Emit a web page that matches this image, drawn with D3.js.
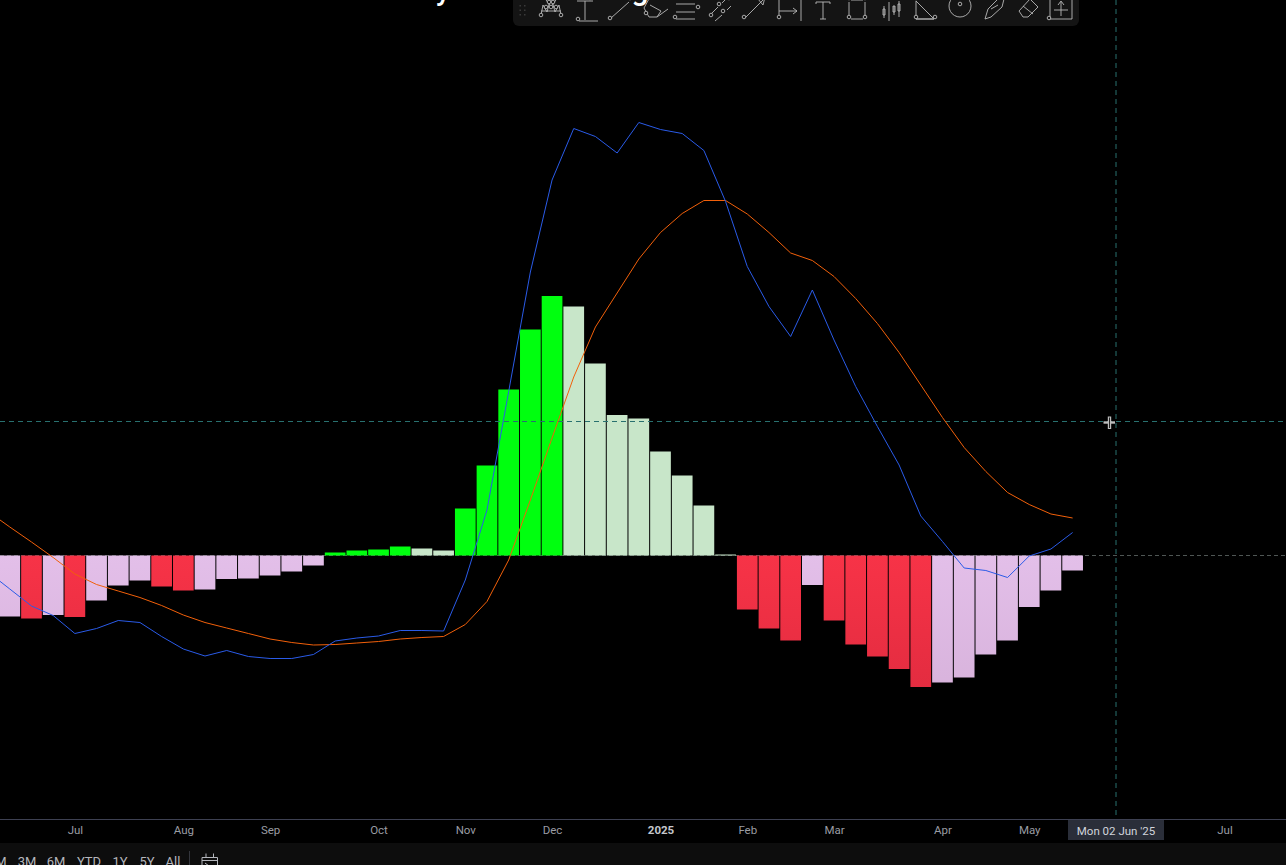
<!DOCTYPE html>
<html>
<head>
<meta charset="utf-8">
<style>
  html, body { margin: 0; padding: 0; background: #000; overflow: hidden; }
  text { font-family: "Roboto", "Inter", sans-serif; }
</style>
<script src="https://cdn.jsdelivr.net/npm/d3@7"></script>
</head>
<body>
<svg id="macd_svg" width="1286" height="865"></svg>
<script>
// weekly MACD panel (first entry sits just off the left edge)
var firstWeek = new Date(Date.UTC(2024, 5, 3))
var crossWeek = new Date(Date.UTC(2025, 5, 2))

var histValues = [-0.65, -0.61, -0.63, -0.595, -0.615, -0.45, -0.30, -0.25, -0.31, -0.35, -0.34,
  -0.235, -0.23, -0.20, -0.16, -0.10, 0.03, 0.05, 0.06, 0.09, 0.07, 0.05,
  0.47, 0.90, 1.66, 2.26, 2.595, 2.49, 1.92, 1.405, 1.37, 1.04, 0.80, 0.50, 0.01,
  -0.54, -0.73, -0.85, -0.295, -0.65, -0.89, -1.01, -1.135, -1.315, -1.27, -1.22,
  -0.99, -0.85, -0.515, -0.35, -0.15]

var macdValues = [-0.165, -0.335, -0.505, -0.60, -0.78, -0.73, -0.65, -0.67, -0.81, -0.935, -1.005,
  -0.95, -1.01, -1.03, -1.03, -0.99, -0.855, -0.825, -0.805, -0.75, -0.75, -0.755,
  -0.245, 0.455, 1.64, 2.835, 3.755, 4.27, 4.19, 4.025, 4.33, 4.26, 4.22, 4.05, 3.54,
  2.89, 2.49, 2.19, 2.655, 2.155, 1.69, 1.29, 0.905, 0.395, 0.14, -0.125,
  -0.15, -0.22, -0.005, 0.065, 0.23]

var signalValues = [0.44, 0.285, 0.135, -0.02, -0.185, -0.29, -0.355, -0.42, -0.50, -0.595, -0.67,
  -0.725, -0.78, -0.835, -0.87, -0.895, -0.89, -0.875, -0.86, -0.835, -0.82, -0.81,
  -0.69, -0.46, -0.045, 0.555, 1.175, 1.785, 2.285, 2.625, 2.965, 3.23, 3.42, 3.55, 3.55,
  3.415, 3.23, 3.025, 2.95, 2.79, 2.57, 2.32, 2.03, 1.705, 1.38, 1.08,
  0.84, 0.63, 0.51, 0.415, 0.375]

var tickDates = ["2024-07-01", "2024-08-05", "2024-09-02", "2024-10-07", "2024-11-04", "2024-12-02",
  "2025-01-06", "2025-02-03", "2025-03-03", "2025-04-07", "2025-05-05", "2025-07-07"]
var tickLabels = ["Jul", "Aug", "Sep", "Oct", "Nov", "Dec", "2025", "Feb", "Mar", "Apr", "May", "Jul"]
var rangeButtons = ["M", "3M", "6M", "YTD", "1Y", "5Y", "All"]
var rangeButtonX = [1, 27, 56, 89, 120, 147, 173]
var titleBits = ["y", "g"]
var titleBitX = [443, 640]

var width = 1286, height = 865, axisY = 819
var weeks = macdValues.map(function (_, i) { return d3.utcWeek.offset(firstWeek, i) })

var x = d3.scaleUtc()
  .domain([firstWeek, crossWeek])
  .range([-11.89, 1116])
var y = d3.scaleLinear()
  .domain([-2.635, 5.555])
  .range([axisY, 0])
var barWidth = 20.7

var svg = d3.select("#macd_svg")
svg.append("rect").attr("width", width).attr("height", height).attr("fill", "#000")

// slight vertical fade the negative bars have in the picture
var defs = svg.append("defs")
function fade(id, top, bottom) {
  var g = defs.append("linearGradient").attr("id", id)
    .attr("gradientUnits", "userSpaceOnUse")
    .attr("x1", 0).attr("x2", 0).attr("y1", y(0)).attr("y2", y(-1.35))
  g.append("stop").attr("offset", 0).attr("stop-color", top)
  g.append("stop").attr("offset", 1).attr("stop-color", bottom)
}
fade("redFade", "#f73347", "#e32c40")
fade("pinkFade", "#e3bfe9", "#d8b3dc")

function barColor(d, i) {
  var rising = i > 0 && d > histValues[i - 1]
  if (d >= 0) return rising ? "#00ff0f" : "#c8e6c9"
  return rising ? "url(#pinkFade)" : "url(#redFade)"
}

svg.append("line")
  .attr("x1", 0).attr("x2", width)
  .attr("y1", y(0)).attr("y2", y(0))
  .attr("stroke", "#4f5654")
  .attr("stroke-dasharray", "4 3")

svg.selectAll("rect.hist")
  .data(histValues)
  .enter()
  .append("rect")
  .attr("class", "hist")
  .attr("x", function (d, i) { return x(weeks[i]) - barWidth / 2 })
  .attr("y", function (d) { return y(Math.max(d, 0)) })
  .attr("width", barWidth)
  .attr("height", function (d) { return Math.abs(y(d) - y(0)) })
  .attr("fill", barColor)

// crosshair
svg.append("line")
  .attr("x1", 0).attr("x2", width)
  .attr("y1", 421.5).attr("y2", 421.5)
  .attr("stroke", "#28706f")
  .attr("stroke-dasharray", "5 4")
svg.append("line")
  .attr("x1", x(crossWeek)).attr("x2", x(crossWeek))
  .attr("y1", 0).attr("y2", axisY)
  .attr("stroke", "#28706f")
  .attr("stroke-dasharray", "5 4")

var line = d3.line()
  .x(function (d, i) { return x(weeks[i]) })
  .y(function (d) { return y(d) })

svg.append("path")
  .attr("d", line(signalValues))
  .attr("fill", "none")
  .attr("stroke", "#f2600a")
  .attr("stroke-width", 1)
svg.append("path")
  .attr("d", line(macdValues))
  .attr("fill", "none")
  .attr("stroke", "#2a5be8")
  .attr("stroke-width", 1)

// time axis
svg.append("rect")
  .attr("y", 843).attr("width", width).attr("height", height - 843)
  .attr("fill", "#0d0d0d")
svg.append("line")
  .attr("x1", 0).attr("x2", width)
  .attr("y1", axisY + 0.5).attr("y2", axisY + 0.5)
  .attr("stroke", "#3d4052")

var axis = svg.append("g")
  .attr("transform", "translate(0," + axisY + ")")
  .call(d3.axisBottom(x)
    .tickValues(tickDates.map(function (d) { return new Date(d) }))
    .tickFormat(function (d, i) { return tickLabels[i] })
    .tickSize(0)
    .tickPadding(7))
axis.select(".domain").remove()
axis.selectAll("text")
  .style("font-size", "11.5px")
  .style("font-weight", function (d, i) { return tickLabels[i] == "2025" ? 700 : 400 })
  .attr("fill", function (d, i) { return tickLabels[i] == "2025" ? "#c4c6cc" : "#9a9ca3" })

// date tag under the crosshair
svg.append("rect")
  .attr("x", 1068).attr("y", 820).attr("width", 96).attr("height", 20)
  .attr("fill", "#2a2e39")
svg.append("text")
  .attr("x", x(crossWeek)).attr("y", 834.5)
  .attr("text-anchor", "middle")
  .attr("fill", "#d1d4dc")
  .style("font-size", "11.5px")
  .text("Mon 02 Jun '25")

// range buttons, cut off by the bottom of the window
svg.selectAll("text.range")
  .data(rangeButtons)
  .enter()
  .append("text")
  .attr("class", "range")
  .attr("x", function (d, i) { return rangeButtonX[i] })
  .attr("y", 866)
  .attr("text-anchor", "middle")
  .attr("fill", "#b4b6bc")
  .style("font-size", "13px")
  .text(function (d) { return d })
svg.append("line")
  .attr("x1", 189.5).attr("x2", 189.5).attr("y1", 851).attr("y2", height)
  .attr("stroke", "#33353c")
var cal = svg.append("g")
  .attr("fill", "none").attr("stroke", "#b4b6bc")
cal.append("path").attr("d", "M202 866V857.5H217.5V866M202 860.5H217.5M206 853.5V857M213.5 853.5V857M205 863L209 866")

// drawing toolbar along the top
svg.append("path")
  .attr("d", "M513 0H1079V20a6 6 0 0 1 -6 6H519a6 6 0 0 1 -6 -6Z")
  .attr("fill", "#141414")

var grip = svg.append("g").attr("fill", "#3a3a3a")
d3.range(3).forEach(function (r) {
  d3.range(2).forEach(function (c) {
    grip.append("rect").attr("x", 519.5 + c * 4.5).attr("y", 5 + r * 4.5).attr("width", 1.5).attr("height", 1.5)
  })
})

// icons: [centre x, outline path, small anchor circles]
var icons = [
  [551, "M-10 12L-8 2L-4 9L0 -6L4 9L8 2L10 12M-10 8H10M-7 -6L0 4L7 -6", [[-10, 14], [-5, 6], [0, 6], [5, 6], [10, 14], [-2, 1], [2, 1]]],
  [585, "M0 -2V17M-6 18H13M-8 -2H8", [[-7, 18], [5, -3]]],
  [620, "M-9 15L9 -1", [[-10, 17], [10, -3]]],
  [652, "M-8 5L-2 -6M-8 5L-3 14L5 14L9 8L-2 2M5 14L16 6", [[-6, 12]]],
  [686, "M-10 1H9M-10 9H9M-10 16H9M-10 -5H9", [[12, 6], [-11, 16]]],
  [721, "M-11 12L-3 4M1 0L5 -4M-6 18L1 12M6 7L10 3", [[-2, 3], [8, -3], [-10, 14], [2, 10]]],
  [755, "M-10 15L8 -3M3 -4L10 -6L8 2Z", [[-11, 16], [10, -4]]],
  [790, "M-11 -3V15M11 -4V18M-11 8H7M3 5L7 8L3 11", [[-11, 16], [-11, -4], [11, -4]]],
  [823, "M-7 1V-1H7V1M0 -1V16M-3 16H3", []],
  [857, "M-8 -1V15M8 -1V15M-6 -3H6M-6 16H6", [[-8, -3], [8, -3], [-8, 16], [8, 16]]],
  [891, "M-7 3V15M-2 -1V18M3 3V12M8 -2V14M-8 6h2v6h-2zM2 3h2v6h-2zM7 1h2v7h-2z", []],
  [925, "M-9 -2L-9 16H9ZM-9 16H9", [[-9, -3], [-9, 16], [10, 16]]],
  [960, "M0 -8a11 11 0 1 0 .01 0Z", [[0, 3]]],
  [994, "M-9 16L-6 6L6 -6L10 -4L8 4L-3 14ZM-3 6L4 2", []],
  [1028, "M-9 8L2 -4L10 4L0 14H-5ZM-5 3L5 11", []],
  [1061, "M-11 -4H11V16H-11ZM0 -1V13M-7 7H7M-3 2L0 -2L3 2", [[-12, 17], [11, -4]]]
]
var tools = svg.selectAll("g.tool")
  .data(icons)
  .enter()
  .append("g")
  .attr("class", "tool")
  .attr("transform", function (d) { return "translate(" + d[0] + ",3)" })
  .attr("fill", "none")
  .attr("stroke", "#b9b9b9")
  .attr("stroke-width", 0.9)
tools.append("path").attr("d", function (d) { return d[1] })
tools.selectAll("circle")
  .data(function (d) { return d[2] })
  .enter()
  .append("circle")
  .attr("cx", function (d) { return d[0] })
  .attr("cy", function (d) { return d[1] - 2 })
  .attr("r", 1.8)
  .attr("fill", "#141414")

// only the descenders of the big title reach into the frame
svg.selectAll("text.title")
  .data(titleBits)
  .enter()
  .append("text")
  .attr("class", "title")
  .attr("x", function (d, i) { return titleBitX[i] })
  .attr("y", 0)
  .attr("text-anchor", "middle")
  .attr("fill", "#fff")
  .style("font-size", "30px")
  .style("font-weight", 500)
  .text(function (d) { return d })

// mouse cursor
var cursor = svg.append("g").attr("stroke", "#bdbdbd").attr("fill", "none")
cursor.append("path").attr("d", "M1103.5 422.5H1115").attr("stroke-width", 2.4)
cursor.append("path").attr("d", "M1109.5 416.5V429").attr("stroke-width", 3.4)
cursor.append("path").attr("d", "M1109.5 417.5V428").attr("stroke", "#222").attr("stroke-width", 1)
</script>
</body>
</html>
